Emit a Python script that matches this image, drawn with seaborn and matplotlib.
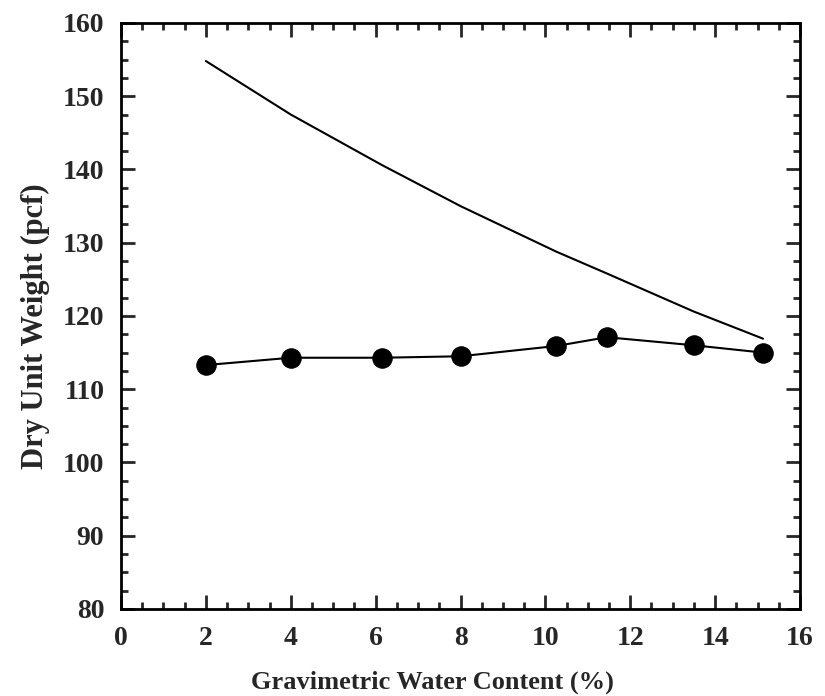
import pandas as pd
import seaborn as sns
import matplotlib.pyplot as plt
from matplotlib.ticker import MultipleLocator

# water content (%) and measured dry unit weight (pcf)
water_content = [2.0, 4.0, 6.15, 8.0, 10.25, 11.45, 13.5, 15.13]
dry_unit_weight = [113.3, 114.3, 114.3, 114.5, 115.9, 117.1, 116.0, 115.0]
# zero-air-voids curve read at same water contents
zav_weight = [154.8, 147.5, 140.6, 135.0, 128.8, 125.8, 120.6, 116.9]

sns.set_style("ticks")
plt.rcParams['font.family'] = ['Liberation Serif', 'DejaVu Serif']
plt.rcParams['font.weight'] = 'bold'

df = pd.DataFrame({'w': water_content, 'gd': dry_unit_weight, 'zav': zav_weight})

fig = plt.figure(figsize=(8.25, 6.96), dpi=100)
ax = fig.add_axes([0.1467, 0.125, 0.823, 0.842])

sns.lineplot(data=df, x='w', y='zav', color='black', linewidth=1.5, ax=ax)
sns.lineplot(data=df, x='w', y='gd', color='black', linewidth=1.5, marker='o',
             markersize=14, markeredgecolor='black', ax=ax)

ax.set_xlim(0, 16)
ax.set_ylim(80, 160)
ax.xaxis.set_major_locator(MultipleLocator(2))
ax.xaxis.set_minor_locator(MultipleLocator(0.5))
ax.yaxis.set_major_locator(MultipleLocator(10))
ax.yaxis.set_minor_locator(MultipleLocator(2.5))
ax.tick_params(which='both', direction='in', top=True, right=True, width=2,
               labelsize=20)
ax.tick_params(axis='x', pad=12)
ax.tick_params(axis='y', pad=12)
ax.tick_params(which='major', length=10)
ax.tick_params(which='minor', length=5)
for s in ax.spines.values():
    s.set_linewidth(2)
    s.set_color('black')

ax.set_xlabel('Gravimetric Water Content (%)', fontsize=19, fontweight='bold')
ax.set_ylabel('Dry Unit Weight (pcf)', fontsize=22, fontweight='bold')
ax.xaxis.set_label_coords(0.459, -0.105)
ax.yaxis.set_label_coords(-0.105, 0.483)

fig.savefig('out.png', dpi=100)
